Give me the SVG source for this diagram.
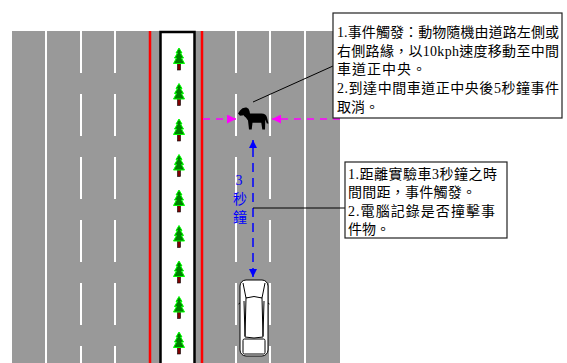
<svg xmlns="http://www.w3.org/2000/svg" width="567" height="363" viewBox="0 0 567 363">
  <style>
    .road { fill: #999999; }
    .lane { stroke: #ffffff; stroke-width: 2; fill: none; }
    .dash { stroke-dasharray: 42 21; }
    .curb { stroke: #ff0000; stroke-width: 2.5; fill: none; }
    .note { fill: #ffffff; stroke: #222222; stroke-width: 1.2; }
    .txt { font-family: "Liberation Serif", "Noto Sans CJK TC", serif; font-size: 14px; fill: #000000; }
    .blue { font-family: "Liberation Serif", "Noto Sans CJK TC", serif; font-size: 14px; fill: #0000ff; text-anchor: middle; }
    .move { stroke: #ff00ff; stroke-width: 1.5; stroke-dasharray: 7 6; fill: none; }
    .gap { stroke: #0000ff; stroke-width: 1.5; stroke-dasharray: 9 6; fill: none; }
    .leader { stroke: #000000; stroke-width: 1; fill: none; }
  </style>
  <defs>
    <marker id="headMagenta" viewBox="0 0 10 10" refX="10" refY="5" markerWidth="6" markerHeight="6" orient="auto-start-reverse" markerUnits="strokeWidth">
      <path d="M0,0 L10,5 L0,10 Z" fill="#ff00ff"/>
    </marker>
    <marker id="headBlue" viewBox="0 0 10 10" refX="10" refY="5" markerWidth="5.5" markerHeight="5.5" orient="auto-start-reverse" markerUnits="strokeWidth">
      <path d="M0,0 L10,5 L0,10 Z" fill="#0000ff"/>
    </marker>
    <g id="tree">
      <rect x="-1.5" y="15" width="3" height="7" fill="#800000" stroke="#000000" stroke-width="0.6"/>
      <path d="M0,0 L3,5 L1.5,5 L4.5,10 L2.5,10 L5.5,15.5 L-5.5,15.5 L-2.5,10 L-4.5,10 L-1.5,5 L-3,5 Z" fill="#008000" stroke="#00ff00" stroke-width="1"/>
    </g>
  </defs>

  <!-- carriageway -->
  <rect class="road" x="12" y="31" width="328" height="332"/>

  <!-- lane markings, left carriageway -->
  <line class="lane" x1="46" y1="31" x2="46" y2="363"/>
  <line class="lane dash" x1="81" y1="31" x2="81" y2="363"/>
  <line class="lane dash" x1="115" y1="31" x2="115" y2="363"/>

  <!-- lane markings, right carriageway -->
  <line class="lane dash" x1="236" y1="31" x2="236" y2="363"/>
  <line class="lane dash" x1="270" y1="31" x2="270" y2="363"/>
  <line class="lane" x1="305" y1="31" x2="305" y2="363"/>

  <!-- inner edge lines -->
  <line class="curb" x1="150" y1="31" x2="150" y2="363"/>
  <line class="curb" x1="202" y1="31" x2="202" y2="363"/>

  <!-- median strip with trees -->
  <g id="median">
    <rect x="160.5" y="32" width="34" height="340" fill="#ffffff" stroke="#000000" stroke-width="2.5"/>
    <use href="#tree" x="179" y="48"/>
    <use href="#tree" x="179" y="83.5"/>
    <use href="#tree" x="179" y="119"/>
    <use href="#tree" x="179" y="154.5"/>
    <use href="#tree" x="179" y="190"/>
    <use href="#tree" x="179" y="225.5"/>
    <use href="#tree" x="179" y="261"/>
    <use href="#tree" x="179" y="296.5"/>
    <use href="#tree" x="179" y="332"/>
  </g>

  <!-- connectors -->
  <g id="connectors">
    <line class="move" x1="203" y1="119" x2="236" y2="119" marker-end="url(#headMagenta)"/>
    <line class="move" x1="340" y1="119" x2="272" y2="119" marker-end="url(#headMagenta)"/>
    <line class="gap" x1="253" y1="277" x2="253" y2="140" marker-start="url(#headBlue)" marker-end="url(#headBlue)"/>
    <line class="leader" x1="253" y1="102" x2="333" y2="66"/>
    <line class="leader" x1="253" y1="208" x2="345" y2="208" stroke="#333333" stroke-width="1.5"/>
  </g>

  <!-- animal -->
  <g id="animal">
    <path d="M238,113.5 L240,110.5 Q242.5,107 246.5,107.5 Q249,108 249.5,111 L250,113.5 L261.5,113.5 Q266,113.5 267,117.5 L268.5,123.5 L266.8,123.5 L265.3,119.5 L265,129.5 L262.3,129.5 L261.3,122.8 L252.5,122.8 L251.7,129.5 L249,129.5 L248,120.5 L245.5,117 L244,115.2 L240,115.8 Z" fill="#000000"/>
    <path d="M243.5,110 Q247,110 246.8,113.5 L246.2,117.5 L244,116 Z" fill="#000000"/>
  </g>

  <!-- test vehicle -->
  <g id="vehicle" fill="#ffffff" stroke="#000000" stroke-width="1">
    <rect x="240" y="280" width="28" height="76" rx="6"/>
    <path d="M243,283 L246,298 L262,298 L265,283"/>
    <path d="M246,298 Q254,295 262,298 L263,337 Q254,339 245,337 Z"/>
    <path d="M244,301 L245,336 M264,301 L263,336"/>
    <rect x="243" y="339" width="22" height="15" rx="1.5"/>
    <path d="M240,303 L238.5,304 M268,303 L269.5,304"/>
  </g>

  <!-- time gap label -->
  <g id="gapLabel">
    <text class="blue" x="239" y="185">3</text>
    <text class="blue" x="240" y="204">秒</text>
    <text class="blue" x="240" y="222">鐘</text>
  </g>

  <!-- trigger note -->
  <g id="noteTrigger">
    <rect class="note" x="333" y="13" width="229" height="105"/>
    <text class="txt" x="337" y="37" textLength="222" lengthAdjust="spacing">1.事件觸發：動物隨機由道路左側或</text>
    <text class="txt" x="337" y="56" textLength="222" lengthAdjust="spacing">右側路緣，以10kph速度移動至中間</text>
    <text class="txt" x="337" y="74" textLength="89" lengthAdjust="spacing">車道正中央。</text>
    <text class="txt" x="337" y="93" textLength="222" lengthAdjust="spacing">2.到達中間車道正中央後5秒鐘事件</text>
    <text class="txt" x="337" y="112">取消。</text>
  </g>

  <!-- recording note -->
  <g id="noteRecord">
    <rect class="note" x="345" y="162" width="162" height="76"/>
    <text class="txt" x="348" y="179" textLength="149" lengthAdjust="spacing">1.距離實驗車3秒鐘之時</text>
    <text class="txt" x="348" y="197" textLength="128" lengthAdjust="spacing">間間距，事件觸發。</text>
    <text class="txt" x="348" y="216" textLength="147" lengthAdjust="spacing">2.電腦記錄是否撞擊事</text>
    <text class="txt" x="348" y="234">件物。</text>
  </g>
</svg>
